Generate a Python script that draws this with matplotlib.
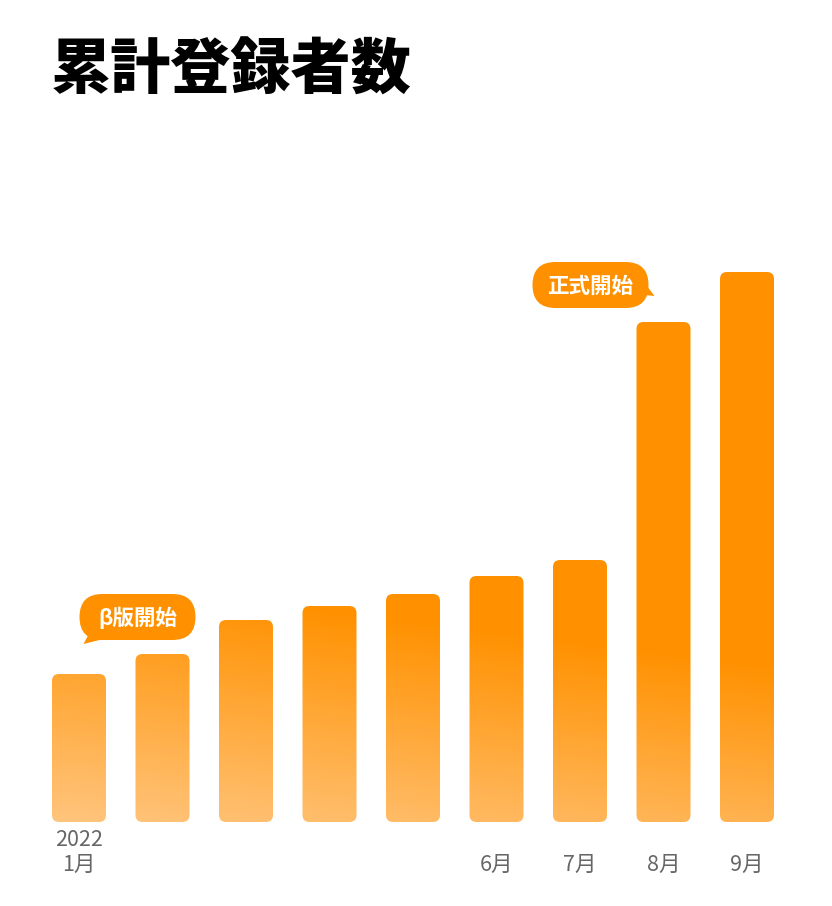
import numpy as np
import matplotlib
matplotlib.use("Agg")
import matplotlib.pyplot as plt
from matplotlib.patches import FancyBboxPatch, Polygon
from matplotlib.transforms import IdentityTransform
from matplotlib.colors import to_rgb

plt.rcParams['font.family'] = ['Noto Sans CJK JP', 'DejaVu Sans']

# data (cumulative registrations, arbitrary units)
months = ["1月", "2月", "3月", "4月", "5月", "6月", "7月", "8月", "9月"]
values = [148, 168, 202, 216, 228, 246, 262, 500, 550]
tick_labels = ["2022\n1月", "", "", "", "", "\n6月", "\n7月", "\n8月", "\n9月"]
title = "累計登録者数"
beta_label = "β版開始"
launch_label = "正式開始"
beta_idx = 1
launch_idx = 7

ORANGE = "#ff9100"
LIGHT = "#ffc680"
W, H = 832, 906

fig = plt.figure(figsize=(W / 100, H / 100), dpi=100)
# axes: baseline at y=822px, 1 y unit = 1 px, bar step 83.5px
step = 83.5
x0 = 79
ax = fig.add_axes([0, (H - 822) / H, 1, 622 / H])
ax.set_xlim(-x0 / step, (W - x0) / step)
ax.set_ylim(0, 622)
for s in ax.spines.values():
    s.set_visible(False)
ax.set_yticks([])
ax.patch.set_alpha(0)

x = np.arange(len(values))
bw = 54 / step

# gradient image, lighter towards bottom-left
nx, ny = 400, 400
gx = np.linspace(0, W, nx)
gy = np.linspace(0, 622, ny)
GX, GY = np.meshgrid(gx, gy)
lt = np.clip(1 - (GY + 0.125 * GX) / 253, 0, 1)
c1 = np.array(to_rgb(ORANGE))
c2 = np.array(to_rgb(LIGHT))
img = c1[None, None, :] + lt[..., None] * (c2 - c1)[None, None, :]

for xi, v in zip(x, values):
    p = FancyBboxPatch((xi - bw / 2, 0), bw, v,
                       boxstyle="round,pad=0,rounding_size=%f" % (7 / step),
                       mutation_aspect=step, linewidth=0, facecolor="none")
    ax.add_patch(p)
    im = ax.imshow(img, extent=(-x0 / step, (W - x0) / step, 0, 622),
                   origin="lower", aspect="auto", zorder=1)
    im.set_clip_path(p)

ax.set_xticks(x)
ax.set_xticklabels(tick_labels, color="#666666", fontsize=15.5, linespacing=1.15)
ax.tick_params(axis="x", length=0, pad=5)


def bubble(idx, dx, dy, label, tail):
    # bubble positioned in pixels relative to a bar top
    bx, by = ax.transData.transform((x[idx], values[idx]))
    cx, cy = bx + dx, by + dy
    bwid, bh = 116, 46
    pill = FancyBboxPatch((cx - bwid / 2, cy - bh / 2), bwid, bh,
                          boxstyle="round,pad=0,rounding_size=23",
                          facecolor=ORANGE, linewidth=0,
                          transform=IdentityTransform(), zorder=3)
    fig.add_artist(pill)
    pts = [(cx + a, cy + b) for a, b in tail]
    fig.add_artist(Polygon(pts, closed=True, facecolor=ORANGE, linewidth=0,
                           transform=IdentityTransform(), zorder=3))
    fig.text(cx / W, (cy - 1) / H, label, color="white", fontsize=15.5,
             fontweight="bold", ha="center", va="center", zorder=4)


bubble(beta_idx, -25, 37, beta_label, [(-46, -12), (-26, -20), (-54, -27)])
bubble(launch_idx, -73, 37, launch_label, [(52, 5), (54, -10), (64, -11)])

fig.text(51 / W, 1 - 71 / H, title, fontsize=43.3, fontweight="black",
         color="black", ha="left", va="center")

fig.savefig("out.png", dpi=100)
